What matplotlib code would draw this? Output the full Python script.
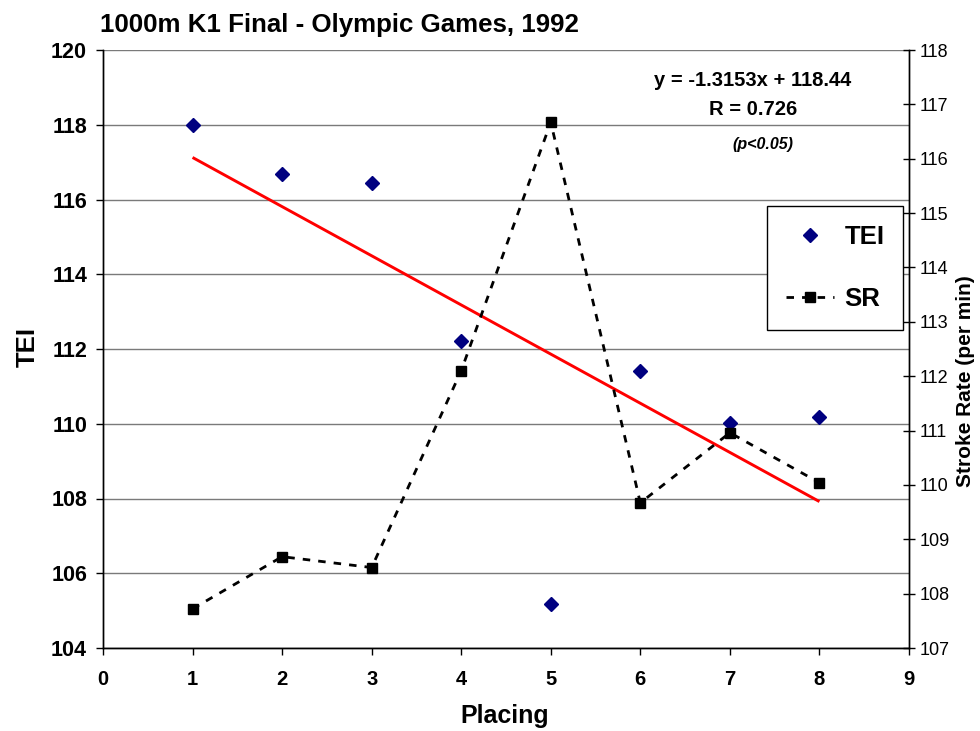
import matplotlib
matplotlib.use("Agg")
import matplotlib.pyplot as plt
from matplotlib.lines import Line2D

plt.rcParams['font.family'] = ['Liberation Sans', 'DejaVu Sans']

placing = [1, 2, 3, 4, 5, 6, 7, 8]
tei = [118.0, 116.68, 116.45, 112.21, 105.18, 111.41, 110.02, 110.18]
sr = [107.72, 108.68, 108.48, 112.10, 116.67, 109.67, 110.96, 110.04]
trend_slope = -1.3153
trend_intercept = 118.44
title = "1000m K1 Final - Olympic Games, 1992"
eq_text = "y = -1.3153x + 118.44"
r_text = "R = 0.726"
p_text = "(p<0.05)"

W, H = 980, 731
fig = plt.figure(figsize=(W / 100, H / 100), dpi=100)
L, R, T, B = 103, 909, 50, 648
ax = fig.add_axes([L / W, 1 - B / H, (R - L) / W, (B - T) / H])
ax2 = ax.twinx()

# trend line
tx = [placing[0], placing[-1]]
ty = [trend_slope * x + trend_intercept for x in tx]
ax.plot(tx, ty, color='#ff0000', lw=2.1, zorder=3, solid_capstyle='butt')

# TEI
ax.plot(placing, tei, linestyle='none', marker='D', ms=7, color='#000080',
        zorder=4, label='TEI')
# SR
dash = (0, (2.7, 2.9))
ax2.plot(placing, sr, color='black', lw=2.0, linestyle=dash, marker='s',
         ms=7.5, zorder=4, label='SR')

ax.set_xlim(0, 9)
ax.set_ylim(104, 120)
ax2.set_ylim(107, 118)
ax.set_xticks(range(0, 10))
ax.set_yticks(range(104, 121, 2))
ax2.set_yticks(range(107, 119))

ax.grid(axis='y', color='#7a7a7a', lw=1.0)
ax.set_axisbelow(True)

for a in (ax, ax2):
    a.spines['top'].set_visible(False)
    for s in a.spines.values():
        s.set_linewidth(1.0)
        s.set_color('black')

ax.tick_params(axis='both', direction='out', length=5, width=1)
ax.tick_params(axis='y', pad=6.5, labelsize=15.5)
ax.tick_params(axis='x', pad=10.5, labelsize=14.5)
for lab in ax.get_xticklabels() + ax.get_yticklabels():
    lab.set_fontweight('bold')
ax2.tick_params(axis='y', direction='inout', length=9, width=1, labelsize=13, pad=3)

ax.set_xlabel('Placing', fontsize=18, fontweight='bold')
ax.xaxis.set_label_coords(0.4988, -0.093)
ax.set_ylabel('TEI', fontsize=18.5, fontweight='bold')
ax.yaxis.set_label_coords(-0.078, 0.503)
ax2.set_ylabel('Stroke Rate (per min)', fontsize=15, fontweight='bold')
ax2.yaxis.set_label_coords(1.0585, 0.4465)

fig.text(100 / W, 1 - 25 / H, title, fontsize=18.6, fontweight='bold',
         ha='left', va='center')
fig.text(753 / W, 1 - 81 / H, eq_text, fontsize=14.5, fontweight='bold',
         ha='center', va='center')
fig.text(753 / W, 1 - 109.5 / H, r_text, fontsize=14.5, fontweight='bold',
         ha='center', va='center')
fig.text(763 / W, 1 - 145 / H, p_text, fontsize=11.5, fontweight='bold',
         style='italic', ha='center', va='center')

h1 = Line2D([], [], linestyle='none', marker='D', ms=7, color='#000080')
h2 = Line2D([], [], color='black', lw=2.0, linestyle=dash, marker='s', ms=7.5)
leg = ax2.legend([h1, h2], ['TEI', 'SR'], loc='upper left',
                 bbox_to_anchor=(767 / W, 1 - 206 / H), bbox_transform=fig.transFigure,
                 prop={'weight': 'bold', 'size': 18.5},
                 frameon=True, fancybox=False, edgecolor='black', framealpha=1,
                 borderpad=0.72, labelspacing=1.5, handlelength=1.9,
                 handletextpad=0.4, borderaxespad=0)
leg.get_frame().set_linewidth(1.0)

fig.savefig('out.png', dpi=100)
